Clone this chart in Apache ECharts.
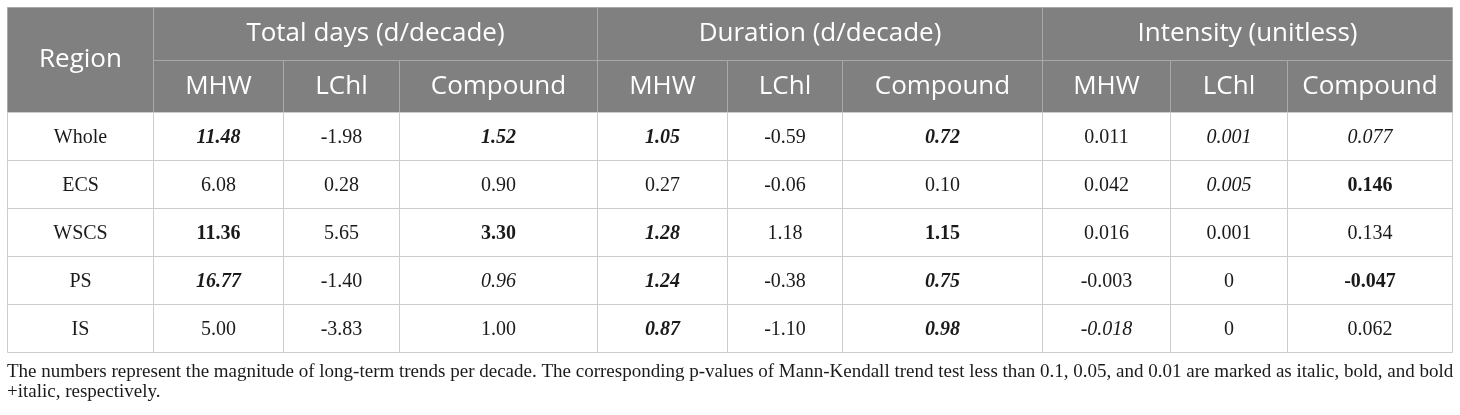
<!DOCTYPE html>
<html>
<head>
<meta charset="utf-8">
<script src="https://cdn.jsdelivr.net/npm/echarts@6/dist/echarts.min.js"></script>
<style>
html,body{margin:0;padding:0;background:#fff;}
#chart{width:1460px;height:415px;}
</style>
</head>
<body>
<div id="chart"></div>
<script>
// ---------- data ----------
const regions = ['Whole', 'ECS', 'WSCS', 'PS', 'IS'];
const groupTitles = ['Total days (d/decade)', 'Duration (d/decade)', 'Intensity (unitless)'];
const subHeaders = ['MHW', 'LChl', 'Compound'];

const totalMHW      = [11.48, 6.08, 11.36, 16.77, 5.00];
const totalLChl     = [-1.98, 0.28, 5.65, -1.40, -3.83];
const totalCompound = [1.52, 0.90, 3.30, 0.96, 1.00];
const durMHW        = [1.05, 0.27, 1.28, 1.24, 0.87];
const durLChl       = [-0.59, -0.06, 1.18, -0.38, -1.10];
const durCompound   = [0.72, 0.10, 1.15, 0.75, 0.98];
const intMHW        = [0.011, 0.042, 0.016, -0.003, -0.018];
const intLChl       = [0.001, 0.005, 0.001, 0, 0];
const intCompound   = [0.077, 0.146, 0.134, -0.047, 0.062];

// significance: '' none, 'i' p<0.1 (italic), 'b' p<0.05 (bold), 'bi' p<0.01 (bold+italic)
const sigTotalMHW      = ['bi', '', 'b', 'bi', ''];
const sigTotalLChl     = ['', '', '', '', ''];
const sigTotalCompound = ['bi', '', 'b', 'i', ''];
const sigDurMHW        = ['bi', '', 'bi', 'bi', 'bi'];
const sigDurLChl       = ['', '', '', '', ''];
const sigDurCompound   = ['bi', '', 'b', 'bi', 'bi'];
const sigIntMHW        = ['', '', '', '', 'i'];
const sigIntLChl       = ['i', 'i', '', '', ''];
const sigIntCompound   = ['i', 'b', '', 'b', ''];

const captionLines = [
  'The numbers represent the magnitude of long-term trends per decade. The corresponding p-values of Mann-Kendall trend test less than 0.1, 0.05, and 0.01 are marked as italic, bold, and bold',
  '+italic, respectively.'
];

// ---------- layout ----------
const colWidths = [146, 130, 116, 198, 130, 115, 200, 128, 117, 165];
const headRowHeights = [53, 52];
const bodyRowHeight = 48;
const colEdges = [0];
colWidths.forEach(w => colEdges.push(colEdges[colEdges.length - 1] + w));
const rowEdges = [0];
headRowHeights.forEach(h => rowEdges.push(rowEdges[rowEdges.length - 1] + h));
regions.forEach(() => rowEdges.push(rowEdges[rowEdges.length - 1] + bodyRowHeight));
const totalW = colEdges[colEdges.length - 1];
const totalH = rowEdges[rowEdges.length - 1];

const valueCols = [totalMHW, totalLChl, totalCompound, durMHW, durLChl, durCompound, intMHW, intLChl, intCompound];
const sigCols = [sigTotalMHW, sigTotalLChl, sigTotalCompound, sigDurMHW, sigDurLChl, sigDurCompound, sigIntMHW, sigIntLChl, sigIntCompound];
const decimals = [2, 2, 2, 2, 2, 2, 3, 3, 3];

function fmt(v, d) { return v === 0 ? '0' : v.toFixed(d); }

// cells: [c0, c1, r0, r1, text, kind, sig]
const headerCells = [];
headerCells.push([0, 1, 0, 2, 'Region', 'h', '']);
groupTitles.forEach((t, g) => headerCells.push([1 + g * 3, 4 + g * 3, 0, 1, t, 'h', '']));
groupTitles.forEach((t, g) => subHeaders.forEach((s, k) => headerCells.push([1 + g * 3 + k, 2 + g * 3 + k, 1, 2, s, 'h', ''])));

const bodyCells = [];
regions.forEach((r, i) => {
  bodyCells.push([0, 1, 2 + i, 3 + i, r, 'b', '']);
  valueCols.forEach((col, j) => {
    bodyCells.push([1 + j, 2 + j, 2 + i, 3 + i, fmt(col[i], decimals[j]), 'b', sigCols[j][i]]);
  });
});

function renderCell(params, api) {
  const c0 = api.value(0), c1 = api.value(1), r0 = api.value(2), r1 = api.value(3);
  const d = (params.seriesIndex === 0 ? headerCells : bodyCells)[params.dataIndex];
  const p0 = api.coord([colEdges[c0], rowEdges[r0]]);
  const p1 = api.coord([colEdges[c1], rowEdges[r1]]);
  const x = Math.round(p0[0]) + 0.5, y = Math.round(p0[1]) + 0.5;
  const w = Math.round(p1[0]) - Math.round(p0[0]), h = Math.round(p1[1]) - Math.round(p0[1]);
  const isHead = d[5] === 'h';
  const sig = d[6];
  return {
    type: 'group',
    children: [
      {
        type: 'rect',
        shape: { x: x, y: y, width: w, height: h },
        style: { fill: isHead ? '#808080' : '#ffffff', stroke: isHead ? '#a9a9a9' : '#cccccc', lineWidth: 1 }
      },
      {
        type: 'text',
        style: {
          text: d[4],
          x: x + w / 2,
          y: y + h / 2 + (isHead ? 0 : 1),
          align: 'center',
          verticalAlign: 'middle',
          fill: isHead ? '#ffffff' : '#1a1a1a',
          fontFamily: isHead ? 'Open Sans' : 'Liberation Serif',
          fontSize: isHead ? 26 : 20,
          fontWeight: sig.indexOf('b') >= 0 ? 'bold' : 'normal',
          fontStyle: sig.indexOf('i') >= 0 ? 'italic' : 'normal'
        }
      }
    ]
  };
}

const chart = echarts.init(document.getElementById('chart'), null, { renderer: 'canvas' });
chart.setOption({
  animation: false,
  backgroundColor: '#ffffff',
  title: {
    text: captionLines.join('\n'),
    left: 7,
    top: 362,
    padding: 0,
    textStyle: { fontFamily: 'Liberation Serif', fontSize: 19, fontWeight: 'normal', color: '#1a1a1a', lineHeight: 20 }
  },
  grid: { left: 7, top: 7, width: totalW, height: totalH },
  xAxis: { type: 'value', min: 0, max: totalW, show: false },
  yAxis: { type: 'value', min: 0, max: totalH, inverse: true, show: false },
  series: [
    { type: 'custom', renderItem: renderCell, data: headerCells.map(c => c.slice(0, 4)), clip: false, silent: true },
    { type: 'custom', renderItem: renderCell, data: bodyCells.map(c => c.slice(0, 4)), clip: false, silent: true }
  ]
});
</script>
</body>
</html>
